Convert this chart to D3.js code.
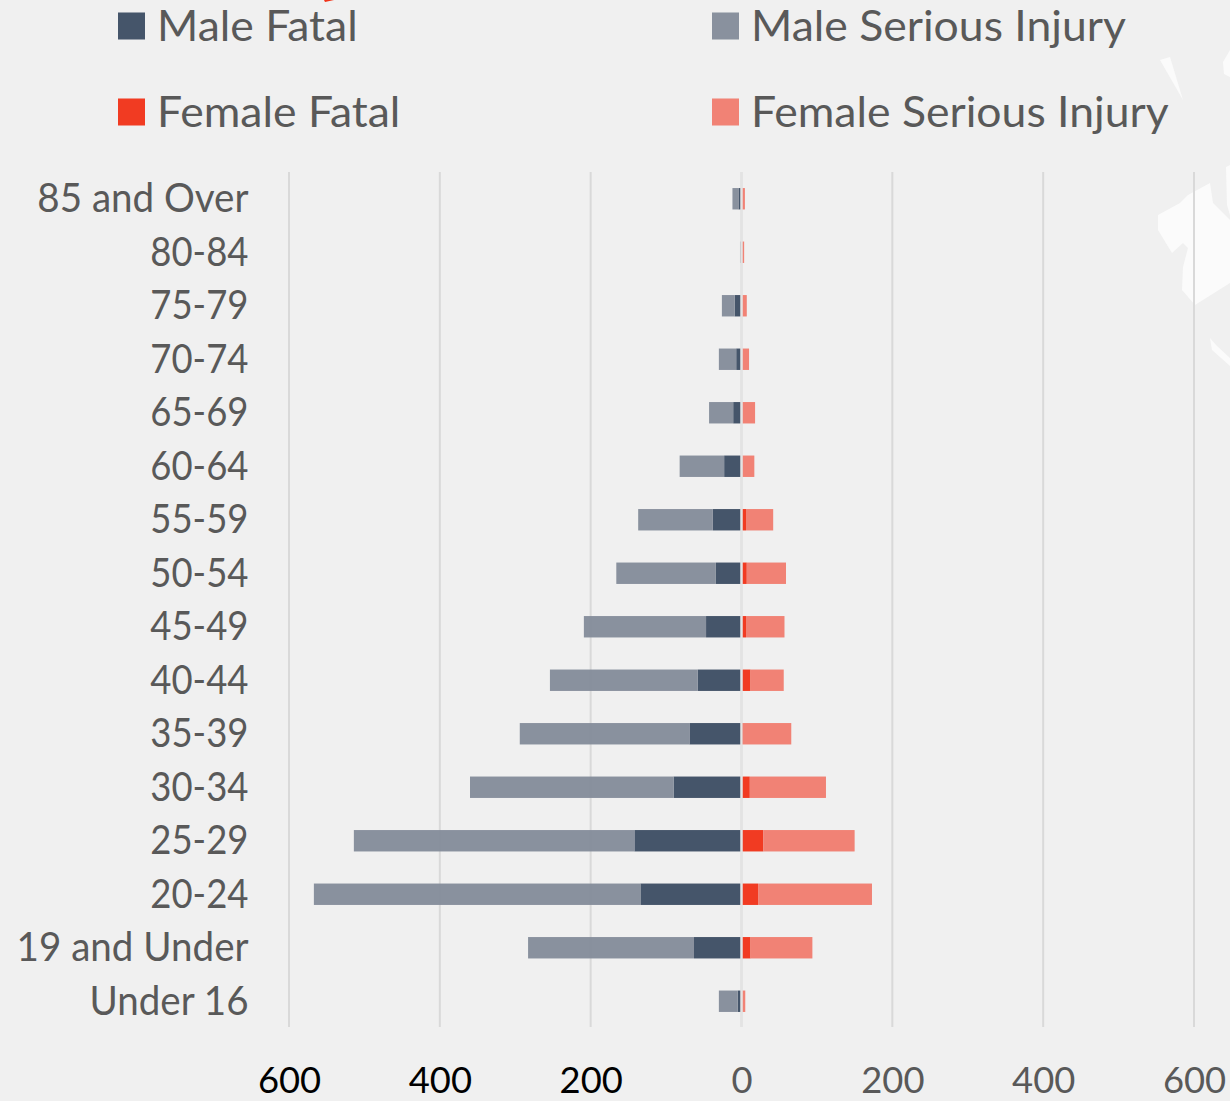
<!DOCTYPE html>
<html lang="en">
<head>
    <meta charset="UTF-8">
    <title>Casualties by age and sex</title>
    <script src="https://cdn.jsdelivr.net/npm/d3@7"></script>
    <style>
        html, body { margin: 0; padding: 0; background: #f0f0f0; overflow: hidden; }
        text { font-family: Lato, "Open Sans", sans-serif; }
    </style>
</head>
<body>
    <div id="chart"></div>

    <script>
        // =============================
        // 1. Data
        // =============================
        const ageGroups = ["85 and Over", "80-84", "75-79", "70-74", "65-69", "60-64", "55-59", "50-54",
            "45-49", "40-44", "35-39", "30-34", "25-29", "20-24", "19 and Under", "Under 16"];
        const maleFatal = [4, 0.5, 9, 7, 11, 23, 38, 34, 47, 58, 69, 90, 142, 134, 63, 5];
        const maleSerious = [8, 1.5, 17, 23, 32, 59, 99, 132, 162, 196, 225, 270, 372, 433, 220, 25];
        const femaleFatal = [0.5, 0.5, 1, 1, 1, 1, 6, 7, 6, 12, 2, 11, 29, 22, 12, 1];
        const femaleSerious = [4, 3, 6, 9, 17, 16, 36, 52, 51, 44, 64, 101, 121, 151, 82, 4];
        const seriesNames = ["Male Fatal", "Male Serious Injury", "Female Fatal", "Female Serious Injury"];
        const axisTicks = [-600, -400, -200, 0, 200, 400, 600];

        // =============================
        // 2. SVG Setup
        // =============================
        const width = 1230, height = 1101;
        const colors = d3.scaleOrdinal(seriesNames, ["#3d4e64", "#848d9a", "#f03319", "#f07d6f"]);
        const barOpacity = 0.96;
        const textColor = "#595959";

        const svg = d3.select("#chart").append("svg")
            .attr("width", width)
            .attr("height", height)
            .style("display", "block");

        // faint map shapes behind the chart
        svg.append("path")
            .attr("fill", "#fbfbfb")
            .attr("d", "M1158,215L1180,203L1188,195L1210,183L1213,203L1230,220V283L1195,305L1182,290L1183,267L1188,248L1183,243L1172,253L1158,230Z"
                + "M1160,60L1170,57L1183,100Z"
                + "M1230,50L1223,62L1224,74L1230,77Z"
                + "M1226,167L1230,165V215L1227,205Z"
                + "M1210,338L1216,345L1230,358V366L1212,350Z");

        // clipped piece of the title above the crop
        svg.append("path")
            .attr("fill", colors("Female Fatal"))
            .attr("d", "M324,0H334L325,2Z");

        const x = d3.scaleLinear().domain([-600, 600]).range([289, 1194]);
        const y = d3.scaleBand().domain(ageGroups).range([172, 1028]).paddingInner(0.6).paddingOuter(0.3);

        // Lato is wider or narrower than the original's font, depending on the glyphs
        function squeeze(selection, factor) {
            selection.each(function (d) {
                const f = typeof factor === "function" ? factor(d) : factor;
                d3.select(this)
                    .attr("lengthAdjust", "spacingAndGlyphs")
                    .attr("textLength", this.getComputedTextLength() * f);
            });
        }

        // =============================
        // 3. Legend
        // =============================
        const legendX = [118, 712], legendY = [26, 112];
        const legend = svg.selectAll(".legend")
            .data(seriesNames)
            .join("g")
            .attr("class", "legend")
            .attr("transform", (d, i) => `translate(${legendX[i % 2]}, ${legendY[i >> 1]})`);

        legend.append("rect")
            .attr("y", -13.5)
            .attr("width", 27)
            .attr("height", 27)
            .attr("fill", d => colors(d))
            .attr("fill-opacity", barOpacity);

        legend.append("text")
            .attr("x", 39)
            .attr("y", 15)
            .attr("font-size", 42)
            .attr("fill", textColor)
            .text(d => d)
            .call(squeeze, 1.06);

        // =============================
        // 4. Grid and bars
        // =============================
        const gridColor = "#d9d9d9";
        svg.append("g")
            .selectAll("line")
            .data(axisTicks)
            .join("line")
            .attr("x1", d => x(d))
            .attr("x2", d => x(d))
            .attr("y1", 172)
            .attr("y2", 1027)
            .attr("stroke", gridColor)
            .attr("stroke-width", 2);

        const rows = ageGroups.map((age, i) => ({
            age: age,
            "Male Fatal": -maleFatal[i],
            "Male Serious Injury": -maleSerious[i],
            "Female Fatal": femaleFatal[i],
            "Female Serious Injury": femaleSerious[i]
        }));

        const stacked = d3.stack()
            .keys(seriesNames)
            .offset(d3.stackOffsetDiverging)(rows);

        svg.append("g")
            .selectAll("g")
            .data(stacked)
            .join("g")
            .attr("fill", d => colors(d.key))
            .attr("fill-opacity", barOpacity)
            .selectAll("rect")
            .data(d => d)
            .join("rect")
            .attr("x", d => x(d[0]))
            .attr("y", d => y(d.data.age))
            .attr("width", d => x(d[1]) - x(d[0]))
            .attr("height", y.bandwidth());

        // zero line stays visible between the two sides
        svg.append("line")
            .attr("x1", x(0))
            .attr("x2", x(0))
            .attr("y1", 172)
            .attr("y2", 1027)
            .attr("stroke", "#e3e3e3")
            .attr("stroke-width", 2.5);

        // =============================
        // 5. Axes
        // =============================
        const yAxis = svg.append("g")
            .attr("transform", "translate(248.5, 0)")
            .call(d3.axisLeft(y).tickSize(0).tickPadding(0));
        yAxis.select(".domain").remove();
        yAxis.selectAll("text")
            .attr("font-size", 41)
            .attr("fill", textColor)
            .attr("dy", "0.33em")
            .call(squeeze, d => /[a-z]/i.test(d) ? 0.94 : 0.89);

        const xAxis = svg.append("g")
            .attr("transform", "translate(0, 1060.5)")
            .call(d3.axisBottom(x).tickValues(axisTicks).tickFormat(d => Math.abs(d)).tickSize(0).tickPadding(0));
        xAxis.select(".domain").remove();
        xAxis.selectAll("text")
            .attr("font-size", 36)
            .attr("fill", d => d < 0 ? "#000" : textColor)
            .attr("dy", "0.9em")
            .call(squeeze, 1.01);
    </script>
</body>
</html>
